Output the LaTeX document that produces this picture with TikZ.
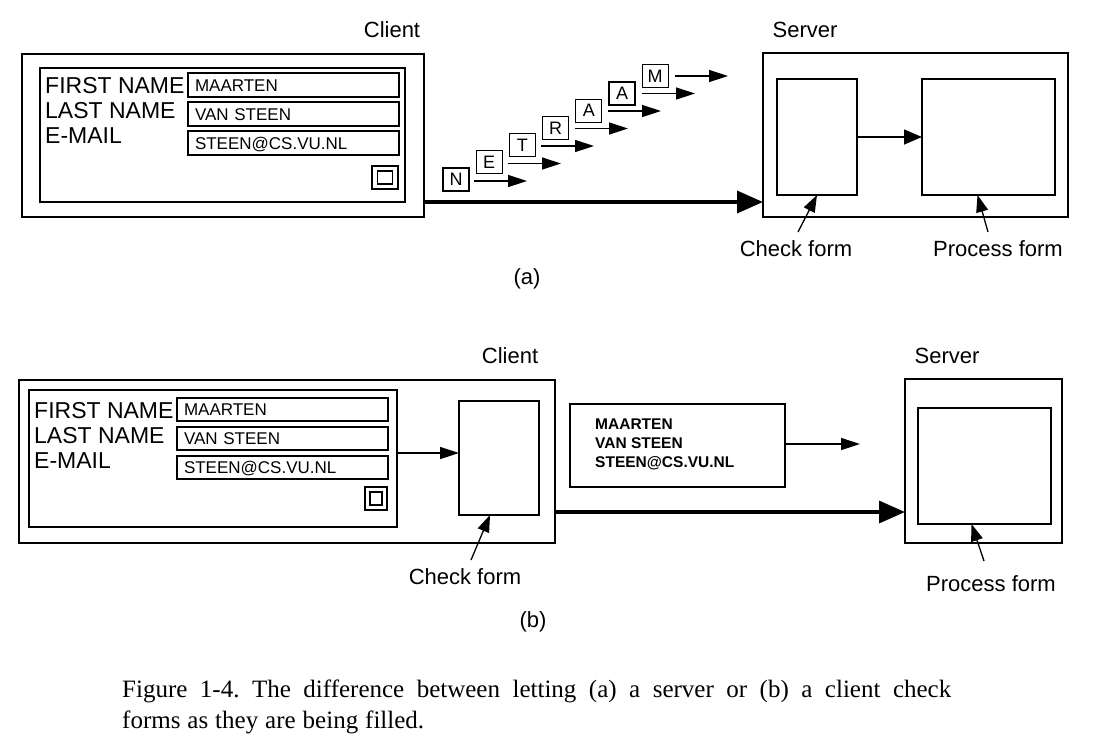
\documentclass[tikz,border=0pt]{standalone}
\usepackage{fontspec}
\setmainfont{Liberation Sans}
\newfontfamily\capfont{Liberation Serif}
\usetikzlibrary{arrows.meta}
\frenchspacing
\begin{document}
\begin{tikzpicture}[x=1pt,y=-1pt,
  outerbox/.style={draw, line width=2.4pt, anchor=north west, inner sep=0pt, outer sep=0pt},
  innerbox/.style={draw, line width=1.2pt, anchor=north west, inner sep=0pt, outer sep=0pt},
  field/.style={draw, line width=1.2pt, anchor=north west, inner sep=0pt, outer sep=0pt, inner xsep=7pt,
    text height=12pt, text depth=0pt, align=left, font=\fontsize{17}{19}\selectfont},
  letterbox/.style={draw, line width=1.2pt, anchor=north west, inner sep=0pt, outer sep=0pt,
    minimum width=26pt, minimum height=23pt, font=\fontsize{18}{20}\selectfont},
  lab/.style={inner sep=0pt, font=\fontsize{22}{26}\selectfont},
  formlab/.style={inner sep=0pt, anchor=base west, font=\fontsize{23}{26}\selectfont},
  datatext/.style={inner sep=0pt, anchor=base west, font=\bfseries\fontsize{15.5}{17}\selectfont},
  thinarrow/.style={line width=1.4pt, -{Triangle[length=19pt,width=12pt]}},
  midarrow/.style={line width=1.5pt, -{Triangle[length=18pt,width=15pt]}},
  thickarrow/.style={line width=3.6pt, -{Triangle[length=26pt,width=22pt]}},
  ptr/.style={line width=1.3pt, -{Triangle[length=17pt,width=12pt]}},
  capline/.style={inner sep=0pt, anchor=base west, font=\capfont\fontsize{25}{30}\selectfont}
]
\useasboundingbox (0,0) rectangle (1094,740);

% ================= (a) =================
\node[lab] (clientA) at (392,30) {Client};
\node[lab] (serverA) at (805,30) {Server};

\node[outerbox, minimum width=402pt, minimum height=163pt] (cA) at (22,54) {};
\node[innerbox, minimum width=365pt, minimum height=134pt] (cAin) at (40,68) {};
\node[formlab] (fnA) at (45,93) {FIRST NAME};
\node[formlab] (lnA) at (45,118) {LAST NAME};
\node[formlab] (emA) at (45,143) {E-MAIL};
\node[field, text width=197pt, minimum height=24pt] (fA1) at (188,73) {MAARTEN};
\node[field, text width=197pt, minimum height=24pt] (fA2) at (188,102) {VAN STEEN};
\node[field, text width=197pt, minimum height=24pt] (fA3) at (188,131) {STEEN@CS.VU.NL};
\node[innerbox, minimum width=26pt, minimum height=23pt] (btnA) at (372,166) {};
\node[draw, line width=1.4pt, inner sep=0pt, minimum width=15pt, minimum height=13pt] (btnAi) at (btnA.center) {};

% letters
\node[letterbox] (l1) at (443,168) {N};
\node[letterbox] (l2) at (476.2,150.8) {E};
\node[letterbox] (l3) at (509.4,133.6) {T};
\node[letterbox] (l4) at (542.6,116.4) {R};
\node[letterbox] (l5) at (575.8,99.2) {A};
\node[letterbox] (l6) at (609,82) {A};
\node[letterbox] (l7) at (642.2,64.8) {M};
\foreach \i/\x/\y in {1/474/181, 2/508/163.5, 3/541/146, 4/575/128.5, 5/608/111, 6/642/93.5, 7/675/76} {
  \coordinate (as\i) at (\x,\y);
  \coordinate (ae\i) at (\x+53,\y);
  \draw[thinarrow] (as\i) -- (ae\i);
}

% server (a)
\node[outerbox, minimum width=305pt, minimum height=164pt] (sA) at (763,53) {};
\node[innerbox, minimum width=80pt, minimum height=116pt] (chkA) at (777,79) {};
\node[innerbox, minimum width=133pt, minimum height=116pt] (procA) at (922,79) {};
\draw[midarrow] (chkA.east) -- (procA.west);

\draw[thickarrow] (cA.east |- 0,202) -- (sA.west |- 0,202);

\node[lab] (chkLabA) at (796,249) {Check form};
\node[lab] (procLabA) at (998,249) {Process form};
\coordinate (pA1) at (798,232);
\coordinate (pA2) at (988,232);
\draw[ptr] (pA1) -- (chkA.south);
\draw[ptr] (pA2) -- ([xshift=-11pt]procA.south);

\node[lab] (capA) at (527,279) {(a)};

% ================= (b) =================
\node[lab] (clientB) at (510,356) {Client};
\node[lab] (serverB) at (947,356) {Server};

\node[outerbox, minimum width=536pt, minimum height=163pt] (cB) at (19,380) {};
\node[innerbox, minimum width=368pt, minimum height=137pt] (cBin) at (29,390) {};
\node[formlab] (fnB) at (34,418) {FIRST NAME};
\node[formlab] (lnB) at (34,443) {LAST NAME};
\node[formlab] (emB) at (34,468) {E-MAIL};
\node[field, text width=197pt, minimum height=23pt] (fB1) at (177,398) {MAARTEN};
\node[field, text width=197pt, minimum height=23pt] (fB2) at (177,427) {VAN STEEN};
\node[field, text width=197pt, minimum height=23pt] (fB3) at (177,456) {STEEN@CS.VU.NL};
\node[innerbox, minimum width=22pt, minimum height=23pt] (btnB) at (365,487) {};
\node[draw, line width=1.4pt, inner sep=0pt, minimum width=12pt, minimum height=13pt] (btnBi) at (btnB.center) {};

\node[innerbox, minimum width=80pt, minimum height=114pt] (chkB) at (459,401) {};
\draw[thinarrow] (cBin.east |- 0,453) -- (chkB.west |- 0,453);

\node[innerbox, minimum width=215pt, minimum height=83pt] (dataB) at (570,404) {};
\node[datatext] (d1) at (595,429) {MAARTEN};
\node[datatext] (d2) at (595,448) {VAN STEEN};
\node[datatext] (d3) at (595,467) {STEEN@CS.VU.NL};
\coordinate (dEnd) at (860,444);
\draw[thinarrow] (dataB.east |- 0,444) -- (dEnd);

\node[outerbox, minimum width=157pt, minimum height=164pt] (sB) at (905,379) {};
\node[innerbox, minimum width=133pt, minimum height=116pt] (procB) at (918,408) {};

\draw[thickarrow] (cB.east |- 0,512) -- (sB.west |- 0,512);

\node[lab] (chkLabB) at (465,577) {Check form};
\node[lab] (procLabB) at (991,584) {Process form};
\coordinate (pB1) at (471,560);
\coordinate (pB2) at (984,561);
\draw[ptr] (pB1) -- ([xshift=-9pt]chkB.south);
\draw[ptr] (pB2) -- ([xshift=-13pt]procB.south);

\node[lab] (capB) at (533,622) {(b)};

% ================= caption =================
\node[capline] (cap1) at (122,697) {\makebox[829pt][s]{Figure 1-4. The difference between letting (a) a server or (b) a client check}};
\node[capline] (cap2) at (122,728) {\makebox[302pt][s]{forms as they are being filled.}};
\end{tikzpicture}
\end{document}
